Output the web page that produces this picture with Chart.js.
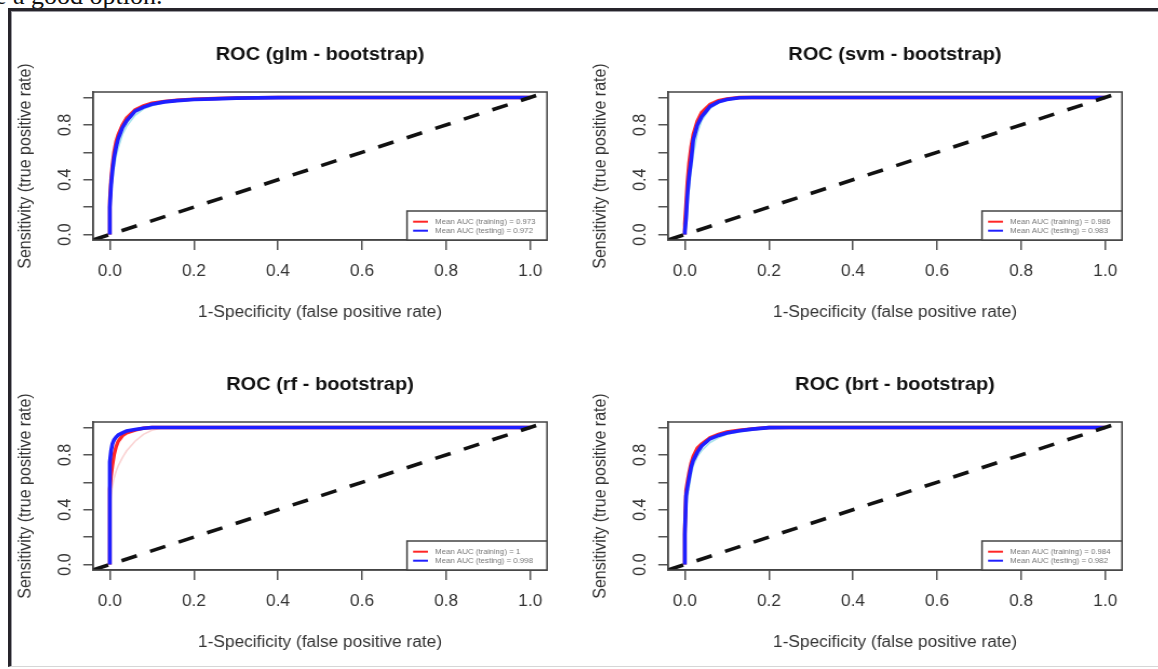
<!DOCTYPE html>
<html>
<head>
<meta charset="utf-8">
<script src="https://cdn.jsdelivr.net/npm/chart.js@4.4.1/dist/chart.umd.min.js"></script>
<style>
  html, body { margin: 0; padding: 0; background: #fff; }
  body { width: 1158px; height: 669px; overflow: hidden; position: relative; }
  #lead { position: absolute; left: -5px; top: -17px; font: 26px/26px "Liberation Serif", "Times New Roman", serif; color: #111; white-space: nowrap; }
  #frame { position: absolute; left: 8px; top: 8px; width: 1170px; height: 655px;
           border-left: 3px solid #26242b; border-top: 3px solid #26242b; border-bottom: 1px solid #d6d6d6;
           box-shadow: inset 1px 1px 0 #9a9aa0; }
  canvas.panel { position: absolute; transform-origin: 0 0; }
</style>
</head>
<body>
<div id="lead">e a good option.</div>
<div id="frame"></div>
<canvas id="c0" class="panel"></canvas>
<canvas id="c1" class="panel"></canvas>
<canvas id="c2" class="panel"></canvas>
<canvas id="c3" class="panel"></canvas>
<script>
/* ========= DATA ========= */
const MODELS = ["glm", "svm", "rf", "brt"];
const AUC_TRAIN = ["0.973", "0.986", "1", "0.984"];
const AUC_TEST = ["0.972", "0.983", "0.998", "0.982"];

// false positive rate grid shared by every curve
const FPR = [0, 0, 0.003, 0.006, 0.01, 0.015, 0.02, 0.03, 0.04, 0.06, 0.08, 0.1, 0.13, 0.16, 0.2, 0.25, 0.3, 0.4, 0.5, 1.0];

// true positive rates (mean training / mean testing / two faint bootstrap runs)
const glmTrain = [0, 0.25, 0.40, 0.50, 0.60, 0.68, 0.73, 0.80, 0.85, 0.91, 0.94, 0.958, 0.972, 0.98, 0.988, 0.993, 0.997, 1, 1, 1];
const glmTest  = [0, 0.20, 0.36, 0.46, 0.56, 0.64, 0.70, 0.78, 0.83, 0.90, 0.93, 0.95, 0.968, 0.977, 0.985, 0.99, 0.995, 0.999, 1, 1];
const glmBootA = [0, 0.14, 0.28, 0.38, 0.48, 0.57, 0.63, 0.73, 0.79, 0.87, 0.915, 0.94, 0.962, 0.973, 0.982, 0.989, 0.994, 0.998, 1, 1];
const glmBootB = [0, 0.22, 0.38, 0.48, 0.58, 0.66, 0.71, 0.79, 0.84, 0.905, 0.935, 0.955, 0.97, 0.978, 0.986, 0.991, 0.996, 0.999, 1, 1];

const svmTrain = [0, 0.08, 0.22, 0.38, 0.52, 0.64, 0.73, 0.83, 0.89, 0.95, 0.978, 0.99, 1, 1, 1, 1, 1, 1, 1, 1];
const svmTest  = [0, 0.02, 0.12, 0.28, 0.42, 0.54, 0.69, 0.80, 0.86, 0.935, 0.968, 0.985, 0.998, 1, 1, 1, 1, 1, 1, 1];
const svmBootA = [0, 0.00, 0.06, 0.18, 0.32, 0.46, 0.58, 0.74, 0.83, 0.92, 0.96, 0.98, 0.995, 1, 1, 1, 1, 1, 1, 1];
const svmBootB = [0, 0.05, 0.18, 0.33, 0.48, 0.61, 0.70, 0.81, 0.875, 0.945, 0.975, 0.99, 1, 1, 1, 1, 1, 1, 1, 1];

const rfTrain = [0, 0.55, 0.65, 0.72, 0.80, 0.86, 0.90, 0.94, 0.96, 0.98, 0.995, 1, 1, 1, 1, 1, 1, 1, 1, 1];
const rfTest  = [0, 0.75, 0.83, 0.88, 0.91, 0.93, 0.945, 0.96, 0.975, 0.985, 0.995, 1, 1, 1, 1, 1, 1, 1, 1, 1];
const rfBootA = [0, 0.40, 0.50, 0.57, 0.63, 0.68, 0.72, 0.78, 0.83, 0.90, 0.95, 0.98, 1, 1, 1, 1, 1, 1, 1, 1];
const rfBootB = [0, 0.70, 0.80, 0.86, 0.895, 0.92, 0.935, 0.955, 0.97, 0.982, 0.993, 1, 1, 1, 1, 1, 1, 1, 1, 1];

const brtTrain = [0, 0.26, 0.54, 0.60, 0.67, 0.74, 0.79, 0.85, 0.88, 0.925, 0.95, 0.967, 0.98, 0.99, 1, 1, 1, 1, 1, 1];
const brtTest  = [0, 0.22, 0.50, 0.56, 0.63, 0.71, 0.76, 0.82, 0.865, 0.918, 0.942, 0.96, 0.976, 0.988, 0.999, 1, 1, 1, 1, 1];
const brtBootA = [0, 0.15, 0.40, 0.48, 0.56, 0.65, 0.72, 0.79, 0.83, 0.89, 0.925, 0.95, 0.968, 0.98, 0.995, 1, 1, 1, 1, 1];
const brtBootB = [0, 0.24, 0.52, 0.58, 0.65, 0.73, 0.78, 0.84, 0.875, 0.92, 0.945, 0.963, 0.978, 0.988, 0.999, 1, 1, 1, 1, 1];

const TRAIN = [glmTrain, svmTrain, rfTrain, brtTrain];
const TEST = [glmTest, svmTest, rfTest, brtTest];
const BOOT_A = [glmBootA, svmBootA, rfBootA, brtBootA];
const BOOT_B = [glmBootB, svmBootB, rfBootB, brtBootB];

const DIAG = [-0.04, 1.04];
const X_TICKS = [0, 0.2, 0.4, 0.6, 0.8, 1.0];
const Y_TICKS = [0, 0.2, 0.4, 0.6, 0.8, 1.0];
const Y_LABELED = [0, 0.4, 0.8];

/* ========= LAYOUT ========= */
const SX = 1.08;            // picture is stretched a bit horizontally
const BOX_LEFT = [93, 668, 93, 668];
const BOX_TOP = [92, 92, 422, 422];
const BOX_W = 454, BOX_H = 148;
const AXIS_W = 83, TOP_PAD = 62, AXIS_H = 88, RIGHT_PAD = 25;
const FONT = '"Liberation Sans", Arial, sans-serif';

const rFrame = {
  id: "rFrame",
  afterDatasetsDraw(chart, args, opts) {
    const { ctx, chartArea: a } = chart;
    ctx.save();
    ctx.strokeStyle = "#444";
    ctx.lineWidth = 1.5;
    ctx.strokeRect(a.left, a.top, a.right - a.left, a.bottom - a.top);

    // legend, bottom right inside the plot
    const w = 140 / SX, h = 29;
    const lx = a.right - w, ly = a.bottom - h;
    ctx.fillStyle = "#fff";
    ctx.fillRect(lx, ly, w, h);
    ctx.strokeRect(lx, ly, w, h);
    ctx.font = "7.3px " + FONT;
    ctx.textBaseline = "middle";
    ctx.textAlign = "left";
    opts.items.forEach((it, i) => {
      const y = ly + 10.7 + i * 9;
      ctx.strokeStyle = it.color;
      ctx.lineWidth = 2;
      ctx.beginPath();
      ctx.moveTo(lx + 5.6, y);
      ctx.lineTo(lx + 19.4, y);
      ctx.stroke();
      ctx.fillStyle = "#777";
      ctx.fillText(it.text, lx + 26, y);
    });

    // title
    ctx.fillStyle = "#111";
    ctx.font = "bold 18.5px " + FONT;
    ctx.textAlign = "center";
    ctx.fillText(opts.title, (a.left + a.right) / 2, a.top - 37);
    ctx.restore();
  }
};

function series(ys) {
  return FPR.map((x, i) => ({ x: x, y: ys[i] }));
}

function makePanel(i) {
  const canvas = document.getElementById("c" + i);
  const pageW = AXIS_W + BOX_W + RIGHT_PAD;
  const cw = Math.round(pageW / SX);
  const ch = TOP_PAD + BOX_H + AXIS_H;
  canvas.width = cw;
  canvas.height = ch;
  canvas.style.left = (BOX_LEFT[i] - AXIS_W) + "px";
  canvas.style.top = (BOX_TOP[i] - TOP_PAD) + "px";
  canvas.style.transform = "scaleX(" + SX + ")";

  const yW = AXIS_W / SX;
  const rightPad = cw - yW - BOX_W / SX;

  new Chart(canvas, {
    type: "line",
    data: {
      datasets: [
        { data: DIAG.map(v => ({ x: v, y: v })), borderColor: "#111", borderWidth: 3.6,
          borderDash: [15, 13], borderCapStyle: "butt", order: 0 },
        { label: "testing", data: series(TEST[i]), borderColor: "#1f1fff", borderWidth: 3.6, order: 1 },
        { label: "training", data: series(TRAIN[i]), borderColor: "#ff2626", borderWidth: 3.4, order: 2 },
        { data: series(BOOT_A[i]), borderColor: i === 2 ? "rgba(245,175,175,0.55)" : "rgba(150,222,232,0.85)",
          borderWidth: 1.6, order: 3 },
        { data: series(BOOT_B[i]), borderColor: i === 2 ? "rgba(160,225,235,0.7)" : "rgba(246,175,175,0.6)",
          borderWidth: 1.8, order: 4 }
      ]
    },
    options: {
      responsive: false,
      animation: false,
      devicePixelRatio: 1,
      elements: { point: { radius: 0 }, line: { tension: 0 } },
      layout: { padding: { left: 0, right: rightPad, top: TOP_PAD, bottom: 0 } },
      plugins: {
        legend: { display: false },
        tooltip: { enabled: false },
        rFrame: {
          title: "ROC (" + MODELS[i] + " - bootstrap)",
          items: [
            { color: "#ff2626", text: "Mean AUC (training) = " + AUC_TRAIN[i] },
            { color: "#1f1fff", text: "Mean AUC (testing) = " + AUC_TEST[i] }
          ]
        }
      },
      scales: {
        x: {
          type: "linear", min: -0.04, max: 1.04,
          afterBuildTicks: s => { s.ticks = X_TICKS.map(v => ({ value: v })); },
          afterFit: s => { s.height = AXIS_H; },
          grid: { drawOnChartArea: false, drawTicks: true, tickLength: 10, color: "#555", lineWidth: 1.5 },
          border: { display: true, color: "#444", width: 1.5 },
          ticks: { autoSkip: false, maxRotation: 0, padding: 12, color: "#333",
                   font: { family: FONT, size: 16 }, callback: v => v.toFixed(1) },
          title: { display: true, text: "1-Specificity (false positive rate)", color: "#333",
                   font: { family: FONT, size: 16 }, padding: { top: 0, bottom: 5.4 } }
        },
        y: {
          type: "linear", min: -0.04, max: 1.04,
          afterBuildTicks: s => { s.ticks = Y_TICKS.map(v => ({ value: v })); },
          afterFit: s => { s.width = yW; },
          grid: { drawOnChartArea: false, drawTicks: true, tickLength: 9, color: "#555", lineWidth: 1.5 },
          border: { display: true, color: "#444", width: 1.5 },
          ticks: { autoSkip: false, minRotation: 90, maxRotation: 90, crossAlign: "center", padding: 5.5,
                   color: "#333", font: { family: FONT, size: 16 },
                   callback: v => Y_LABELED.includes(v) ? v.toFixed(1) : "" },
          title: { display: true, text: "Sensitivity (true positive rate)", color: "#333",
                   font: { family: FONT, size: 16 }, padding: { top: 4.8, bottom: 0 } }
        }
      }
    },
    plugins: [rFrame]
  });
}

MODELS.forEach((m, i) => makePanel(i));
</script>
</body>
</html>
